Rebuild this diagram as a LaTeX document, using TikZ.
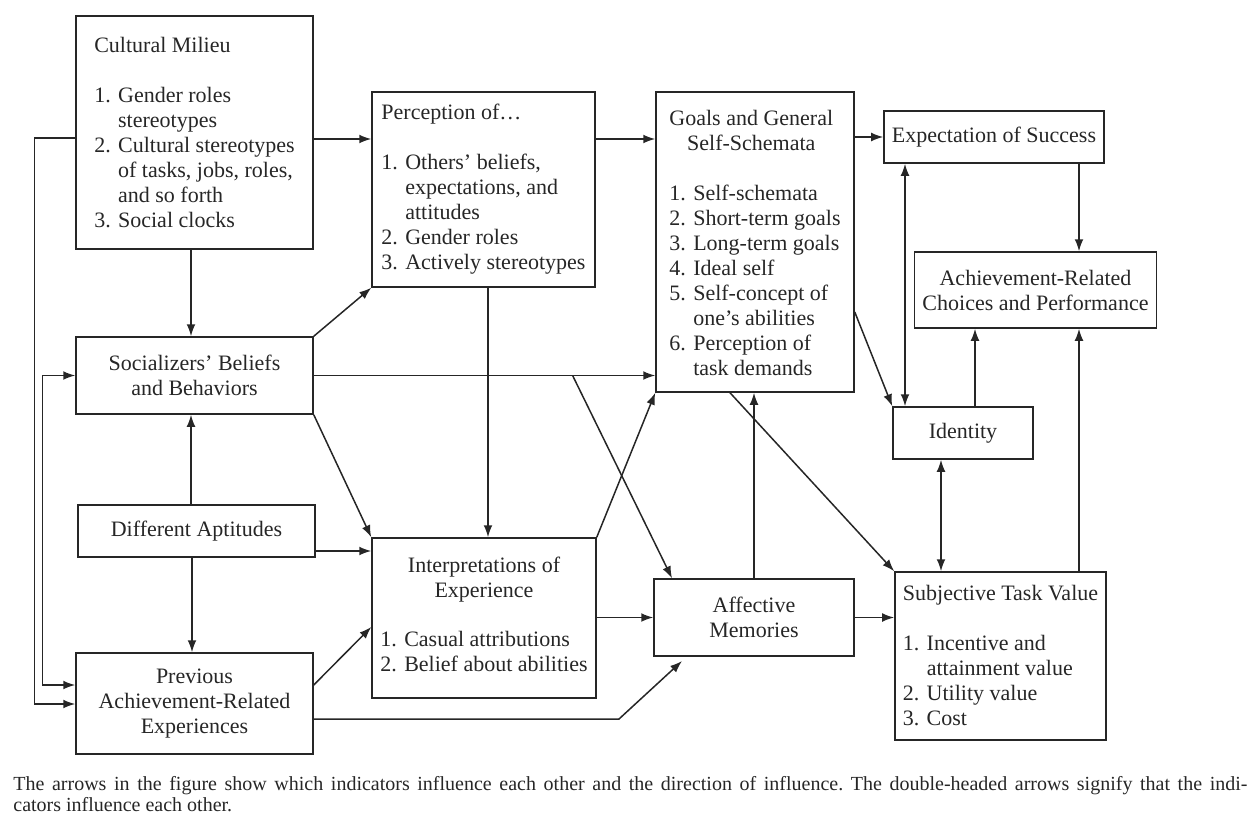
\documentclass[tikz,border=0pt]{standalone}
\usepackage{fontspec}
\setmainfont{Liberation Serif}
\usetikzlibrary{arrows.meta}

\begin{document}
\begin{tikzpicture}[x=0.5pt,y=-0.5pt,
  box/.style={draw=black!85,line width=0.75pt,text=black!85,font=\fontsize{11}{12.5}\selectfont,inner sep=4pt},
  arr/.style={draw=black!85,line width=0.75pt,-{Latex[length=6pt,width=4.4pt]}},
  darr/.style={arr,{Latex[length=6pt,width=4.4pt]}-{Latex[length=6pt,width=4.4pt]}}]
\useasboundingbox (0,0) rectangle (1258,814);
% left column
\node[box,minimum width=118.5pt,minimum height=116.5pt,align=left] (cult) at (194.5,132.5) {Cultural Milieu\\[12.5pt]1. Gender roles\\\hphantom{1. }stereotypes\\2. Cultural stereotypes\\\hphantom{2. }of tasks, jobs, roles,\\\hphantom{2. }and so forth\\3. Social clocks};
\node[box,minimum width=118.5pt,minimum height=38.5pt,align=center] (soc) at (194.5,375.5) {Socializers' Beliefs\\and Behaviors};
\node[box,minimum width=118.5pt,minimum height=26pt,align=center] (apt) at (196.5,531) {Different Aptitudes};
\node[box,minimum width=118.5pt,minimum height=50.5pt,align=center] (prev) at (194.5,703.5) {Previous\\Achievement-Related\\Experiences};
% middle
\node[box,minimum width=111.5pt,minimum height=97.5pt,align=left] (perc) at (483.5,189.5) {Perception of\ldots\\[12.5pt]1. Others' beliefs,\\\hphantom{1. }expectations, and\\\hphantom{1. }attitudes\\2. Gender roles\\3. Actively stereotypes};
\node[box,minimum width=112pt,minimum height=80pt,align=center] (interp) at (484,618) {Interpretations of\\Experience\\[12.5pt]\begin{tabular}{@{}l@{}}1. Casual attributions\\2. Belief about abilities\end{tabular}};
\node[box,minimum width=99pt,minimum height=150pt,align=left] (goals) at (755,242) {\begin{tabular}{@{}c@{}}Goals and General\\Self-Schemata\end{tabular}\\[12.5pt]1. Self-schemata\\2. Short-term goals\\3. Long-term goals\\4. Ideal self\\5. Self-concept of\\\hphantom{5. }one's abilities\\6. Perception of\\\hphantom{6. }task demands};
\node[box,minimum width=100pt,minimum height=38.5pt,align=center] (affect) at (754,617.5) {Affective\\Memories};
% right column
\node[box,minimum width=100pt,minimum height=26pt] (expect) at (994,137) {Expectation of Success};
\node[box,minimum width=109.5pt,minimum height=38pt,align=center] (achieve) at (1035.5,290) {Achievement-Related\\Choices and Performance};
\node[box,minimum width=70pt,minimum height=26pt] (ident) at (963,433) {Identity};
\node[box,minimum width=93.5pt,minimum height=84pt,align=left] (stv) at (1000.5,656) {Subjective Task Value\\[12.5pt]1. Incentive and\\\hphantom{1. }attainment value\\2. Utility value\\3. Cost};
\coordinate (amtip) at (682,661);

% arrows
\draw[arr] (cult.east |- 0,139) -- (perc.west |- 0,139);
\draw[arr] (perc.east |- 0,139) -- (goals.west |- 0,139);
\draw[arr] (goals.east |- expect.west) -- (expect.west);
\draw[arr] (cult.south -| 191,0) -- (soc.north -| 191,0);
\draw[arr] (apt.north -| 191,0) -- (soc.south -| 191,0);
\draw[arr] (apt.south -| 192,0) -- (prev.north -| 192,0);
\draw[arr] (cult.west |- 0,138) -- ++(-41,0) |- (prev.west |- 0,704);
\draw[darr] (soc.west) -- ++(-33,0) |- (prev.west |- 0,685);
\draw[arr] (soc.north east) -- (perc.south west);
\draw[arr] (soc.east) -- coordinate[pos=0.758] (sk) (goals.west |- soc.east);
\draw[arr] (sk) -- (affect.north west -| 672,0);
\draw[arr] (soc.south east) -- (interp.north west);
\draw[arr] (perc.south -| 488,0) -- (interp.north -| 488,0);
\draw[arr] (apt.east |- 0,551) -- (interp.west |- 0,551);
\draw[arr] (prev.east |- 0,685) -- (interp.west |- 0,627);
\draw[arr] (prev.east |- 0,719) -- (619,719) -- (amtip);
\draw[arr] (interp.north east) -- (goals.south west);
\draw[arr] (interp.east |- affect.west) -- (affect.west);
\draw[arr] (affect.north) -- (affect.north |- goals.south);
\draw[arr] (goals.south -| 730,0) -- (stv.north west);
\draw[arr] (goals.east |- 0,312) -- (ident.north west);
\draw[darr] (expect.south -| 905,0) -- (ident.north -| 905,0);
\draw[arr] (expect.south -| 1079,0) -- (achieve.north -| 1079,0);
\draw[arr] (ident.north -| 975,0) -- (achieve.south -| 975,0);
\draw[arr] (stv.north -| 1079,0) -- (achieve.south -| 1079,0);
\draw[darr] (ident.south -| 941,0) -- (stv.north -| 941,0);
\draw[arr] (affect.east) -- (stv.west |- affect.east);

\node[anchor=north west,align=left,inner sep=0pt,text=black!85,font=\fontsize{10}{10.5}\selectfont\frenchspacing] (cap) at (13,776) {\makebox[617pt][s]{The arrows in the figure show which indicators influence each other and the direction of influence. The double-headed arrows signify that the indi-}\\cators influence each other.};
\end{tikzpicture}
\end{document}
